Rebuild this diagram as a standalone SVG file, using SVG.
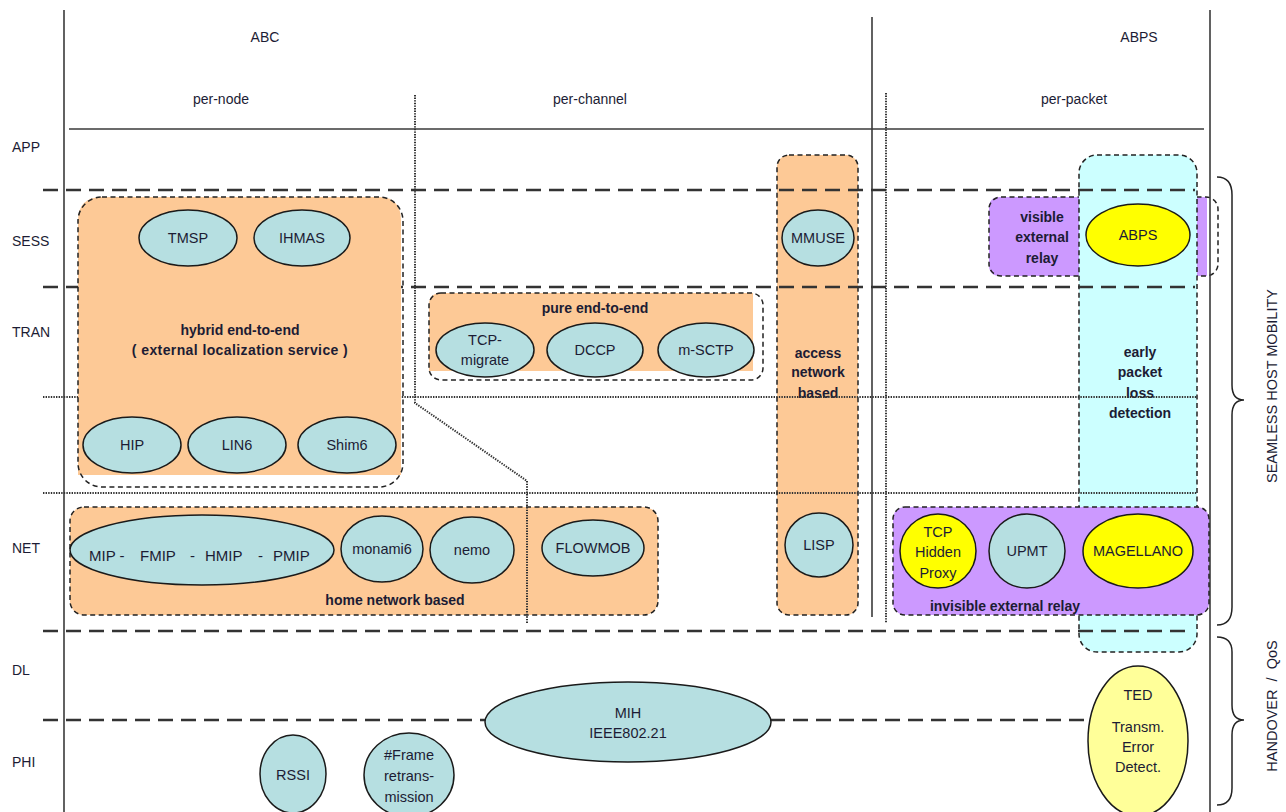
<svg xmlns="http://www.w3.org/2000/svg" width="1286" height="812" viewBox="0 0 1286 812">
  <style>
    text { font-family: "Liberation Sans", Arial, sans-serif; fill: #1c1c34; }
    .lbl { font-size: 14px; }
    .hdr { font-size: 14px; text-anchor: middle; }
    .nt { font-size: 14.5px; text-anchor: middle; }
    .bt { font-size: 14px; font-weight: bold; text-anchor: middle; }
    .pre { white-space: pre; }
    .solid { stroke: #3a3a3a; stroke-width: 1.6; fill: none; }
    .dash { stroke: #333; stroke-width: 2.4; stroke-dasharray: 15 8; fill: none; }
    .dot { stroke: #333; stroke-width: 2; stroke-dasharray: 1.4 1.2; fill: none; }
    .outline { fill: none; stroke: #222; stroke-width: 1.5; stroke-dasharray: 5 3.5; }
    .orange { fill: #fdc996; }
    .purple { fill: #cc99ff; }
    .cyan { fill: #ccffff; }
    .el { fill: #b6dfe1; stroke: #1a1a1a; stroke-width: 1.5; }
    .yel { fill: #ffff00; stroke: #1a1a1a; stroke-width: 1.5; }
    .ltyel { fill: #ffff99; stroke: #1a1a1a; stroke-width: 1.5; }
    .brace { fill: none; stroke: #222; stroke-width: 1.5; }
  </style>

  <rect width="1286" height="812" fill="#ffffff"/>

  <!-- boxes that sit underneath the layer lines -->
  <g id="visible-relay">
    <path class="purple" d="M1000,197 H1207 V276 H1000 Q989,276 989,265 V208 Q989,197 1000,197 Z"/>
    <rect class="outline" x="989" y="197" width="229" height="79" rx="12"/>
    <text class="bt" x="1042" y="222">visible</text>
    <text class="bt" x="1042" y="242">external</text>
    <text class="bt" x="1042" y="263">relay</text>
  </g>

  <g id="early-loss-detection">
    <rect class="cyan" x="1079" y="155" width="118" height="497" rx="18"/>
    <rect class="outline" x="1079" y="155" width="118" height="497" rx="18"/>
    <text class="bt" x="1140" y="357">early</text>
    <text class="bt" x="1140" y="377">packet</text>
    <text class="bt" x="1140" y="398">loss</text>
    <text class="bt" x="1140" y="418">detection</text>
  </g>

  <g id="access-network-based">
    <rect class="orange" x="777" y="155" width="81" height="460" rx="12"/>
    <rect class="outline" x="777" y="155" width="81" height="460" rx="12"/>
    <text class="bt" x="818" y="358">access</text>
    <text class="bt" x="818" y="377">network</text>
    <text class="bt" x="818" y="398">based</text>
  </g>

  <g id="home-network-based">
    <rect class="orange" x="70" y="507" width="588" height="108" rx="14"/>
    <rect class="outline" x="70" y="507" width="588" height="108" rx="14"/>
    <text class="bt" x="395" y="605">home network based</text>
  </g>

  <!-- layer and column lines -->
  <g id="connectors">
    <line class="solid" x1="64" y1="10" x2="64" y2="812"/>
    <line class="solid" x1="872" y1="17" x2="872" y2="617"/>
    <line class="solid" x1="1210" y1="10" x2="1210" y2="812"/>
    <line class="solid" x1="69" y1="129" x2="1204" y2="129"/>
    <line class="dash" x1="43" y1="190" x2="1195" y2="190"/>
    <line class="dash" x1="43" y1="287" x2="1195" y2="287"/>
    <line class="dot" x1="43" y1="397" x2="1197" y2="397"/>
    <line class="dot" x1="43" y1="493" x2="1197" y2="493"/>
    <line class="dash" x1="43" y1="631" x2="1193" y2="631"/>
    <line class="dash" x1="43" y1="720" x2="486" y2="720"/>
    <line class="dash" x1="770" y1="720" x2="1089" y2="720"/>
    <polyline class="dot" points="415,95 415,403 527,481 527,623"/>
    <line class="dot" x1="886" y1="93" x2="886" y2="623"/>
    <path class="brace" d="M1217,177 Q1232,177 1232,195 L1232,385 Q1232,400 1244,400 Q1232,400 1232,415 L1232,607 Q1232,625 1217,625"/>
    <path class="brace" d="M1217,637 Q1232,637 1232,652 L1232,705 Q1232,720 1244,720 Q1232,720 1232,735 L1232,788 Q1232,805 1217,805"/>
  </g>

  <!-- headings and layer names -->
  <g id="labels">
    <text class="hdr" x="265" y="42">ABC</text>
    <text class="hdr" x="1139" y="42">ABPS</text>
    <text class="hdr" x="221" y="104">per-node</text>
    <text class="hdr" x="590" y="104">per-channel</text>
    <text class="hdr" x="1074" y="104">per-packet</text>
    <text class="lbl" x="12" y="152">APP</text>
    <text class="lbl" x="12" y="246">SESS</text>
    <text class="lbl" x="12" y="337">TRAN</text>
    <text class="lbl" x="12" y="553">NET</text>
    <text class="lbl" x="12" y="675">DL</text>
    <text class="lbl" x="12" y="767">PHI</text>
    <text class="hdr" style="font-size:14.5px" transform="translate(1277,386) rotate(-90)">SEAMLESS HOST MOBILITY</text>
    <text class="hdr pre" style="font-size:14.5px" transform="translate(1277,706) rotate(-90)">HANDOVER  /  QoS</text>
  </g>

  <g id="hybrid-end-to-end">
    <path class="orange" d="M102,197 H379 Q401,197 401,221 V475 H78 V221 Q78,197 102,197 Z"/>
    <rect class="outline" x="78" y="197" width="325" height="290" rx="24"/>
    <text class="bt" x="240" y="335">hybrid end-to-end</text>
    <text class="bt pre" x="240" y="355" style="letter-spacing:0.4px">( external localization service )</text>
  </g>

  <g id="pure-end-to-end">
    <path class="orange" d="M441,293 H753 V371 H429 V305 Q429,293 441,293 Z"/>
    <rect class="outline" x="429" y="293" width="334" height="87" rx="12"/>
    <text class="bt" x="595" y="313">pure end-to-end</text>
  </g>

  <g id="invisible-relay">
    <rect class="purple" x="893" y="507" width="316" height="108" rx="12"/>
    <rect class="outline" x="893" y="507" width="316" height="108" rx="12"/>
    <text class="bt" x="1005" y="611">invisible external relay</text>
  </g>

  <!-- protocol nodes -->
  <g id="tmsp"><ellipse class="el" cx="188" cy="238" rx="49" ry="28"/><text class="nt" x="188" y="243">TMSP</text></g>
  <g id="ihmas"><ellipse class="el" cx="302" cy="238" rx="48" ry="28"/><text class="nt" x="302" y="243">IHMAS</text></g>
  <g id="hip"><ellipse class="el" cx="132" cy="445" rx="49" ry="28"/><text class="nt" x="132" y="450">HIP</text></g>
  <g id="lin6"><ellipse class="el" cx="237" cy="445" rx="49" ry="28"/><text class="nt" x="237" y="450">LIN6</text></g>
  <g id="shim6"><ellipse class="el" cx="347" cy="445" rx="49" ry="28"/><text class="nt" x="347" y="450">Shim6</text></g>

  <g id="tcp-migrate"><ellipse class="el" cx="485" cy="350" rx="49" ry="27"/><text class="nt" x="485" y="345">TCP-</text><text class="nt" x="485" y="365">migrate</text></g>
  <g id="dccp"><ellipse class="el" cx="595" cy="350" rx="48" ry="27"/><text class="nt" x="595" y="355">DCCP</text></g>
  <g id="m-sctp"><ellipse class="el" cx="706" cy="350" rx="48" ry="27"/><text class="nt" x="706" y="355">m-SCTP</text></g>

  <g id="mmuse"><ellipse class="el" cx="818" cy="238" rx="36" ry="28"/><text class="nt" x="818" y="243">MMUSE</text></g>
  <g id="lisp"><ellipse class="el" cx="819" cy="545" rx="34" ry="32"/><text class="nt" x="819" y="550">LISP</text></g>

  <g id="mip">
    <ellipse class="el" cx="202" cy="550" rx="132" ry="35"/>
    <text style="font-size:15px" y="561"><tspan x="89">MIP -</tspan><tspan x="140">FMIP</tspan><tspan x="190">-</tspan><tspan x="205">HMIP</tspan><tspan x="258">-</tspan><tspan x="273">PMIP</tspan></text>
  </g>
  <g id="monami6"><ellipse class="el" cx="382" cy="549" rx="41" ry="33"/><text class="nt" x="382" y="554">monami6</text></g>
  <g id="nemo"><ellipse class="el" cx="472" cy="550" rx="42" ry="33"/><text class="nt" x="472" y="555">nemo</text></g>
  <g id="flowmob"><ellipse class="el" cx="593" cy="548" rx="51" ry="28"/><text class="nt" x="593" y="553">FLOWMOB</text></g>

  <g id="abps"><ellipse class="yel" cx="1138" cy="235" rx="52" ry="31"/><text class="nt" x="1138" y="240">ABPS</text></g>
  <g id="tcp-hidden-proxy"><ellipse class="yel" cx="938" cy="551" rx="38" ry="37"/><text class="nt" x="938" y="537">TCP</text><text class="nt" x="938" y="557">Hidden</text><text class="nt" x="938" y="578">Proxy</text></g>
  <g id="upmt"><ellipse class="el" cx="1027" cy="551" rx="38" ry="37"/><text class="nt" x="1027" y="556">UPMT</text></g>
  <g id="magellano"><ellipse class="yel" cx="1138" cy="551" rx="55" ry="37"/><text class="nt" x="1138" y="556">MAGELLANO</text></g>

  <g id="mih"><ellipse class="el" cx="628" cy="722" rx="143" ry="40"/><text class="nt" x="628" y="718">MIH</text><text class="nt" x="628" y="738">IEEE802.21</text></g>
  <g id="rssi"><ellipse class="el" cx="293" cy="774" rx="33" ry="39"/><text class="nt" x="293" y="780">RSSI</text></g>
  <g id="frame-retransmission"><ellipse class="el" cx="409" cy="775" rx="45" ry="42"/><text class="nt" x="409" y="760">#Frame</text><text class="nt" x="409" y="781">retrans-</text><text class="nt" x="409" y="802">mission</text></g>
  <g id="ted"><ellipse class="ltyel" cx="1138" cy="741" rx="50" ry="75"/><text class="nt" x="1138" y="700">TED</text><text class="nt" x="1138" y="732">Transm.</text><text class="nt" x="1138" y="752">Error</text><text class="nt" x="1138" y="772">Detect.</text></g>
</svg>
